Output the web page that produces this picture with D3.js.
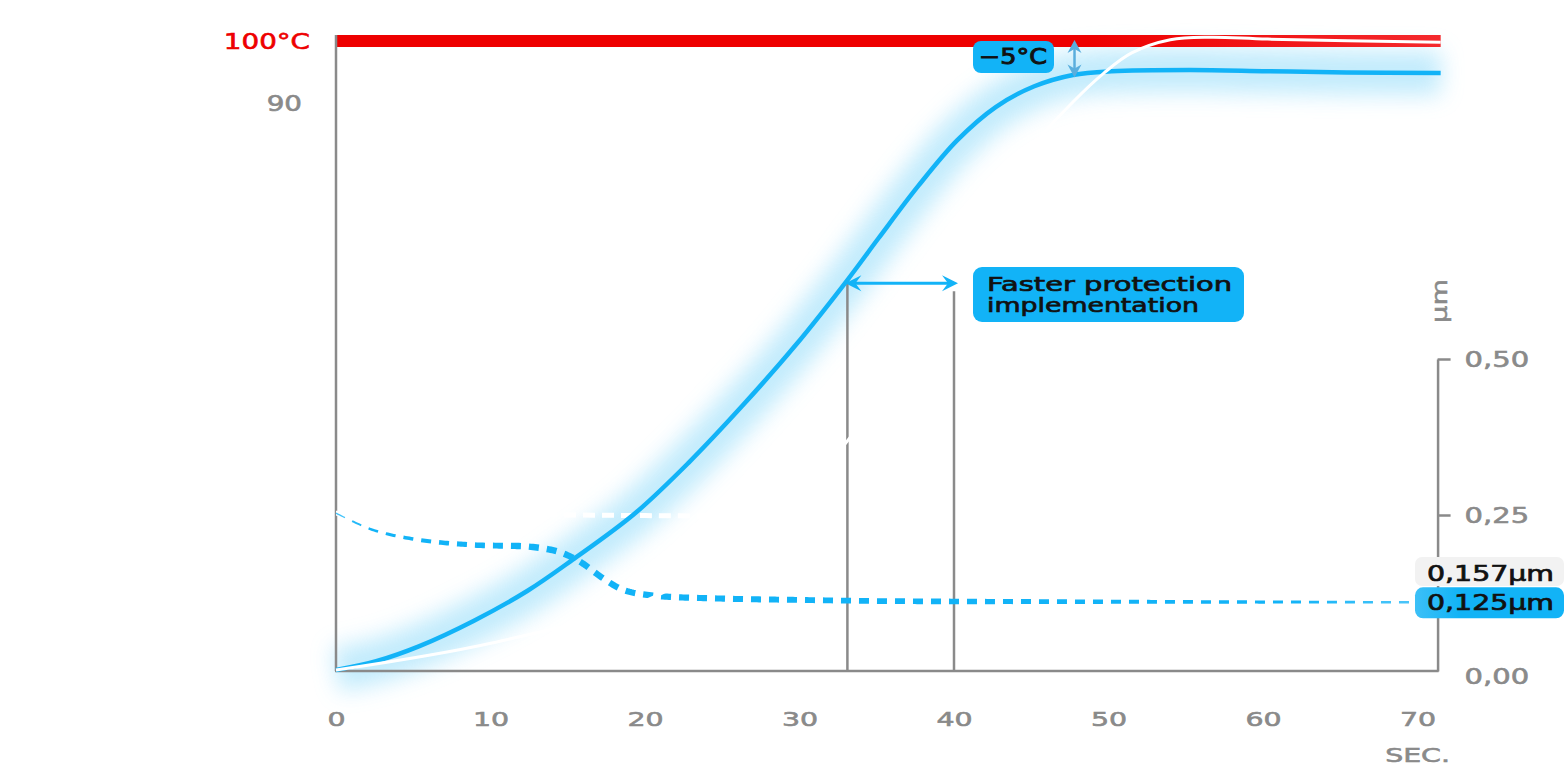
<!DOCTYPE html>
<html><head><meta charset="utf-8">
<script src="https://cdn.jsdelivr.net/npm/d3@7/dist/d3.min.js"></script>
<style>html,body{margin:0;padding:0;background:#fff;overflow:hidden}svg{display:block}</style>
</head><body><svg id="c" width="1564" height="768"></svg>
<script>
// ---------- data ----------
const timeTicks = [0, 10, 20, 30, 40, 50, 60, 70];
const tempTicks = [90, 100];
const tempTickLabels = ["90", "100°C"];
const umTicks = [0, 0.25, 0.5];
const umTickLabels = ["0,00", "0,25", "0,50"];
const timeUnit = "SEC.";
const umUnit = "µm";

// temperature with protection (blue solid)
const tWith    = [0, 2.6, 5.4, 8.9, 12.4, 15.3, 19.3, 22.8, 26.3, 29.7, 33.1, 35.1, 37.7, 40.2, 42.7, 45.2, 47.7, 50.2, 55.3, 60.3, 65.4, 71.5];
const tempWith = [0, 1.4, 3.8, 7.8, 12.6, 17.5, 24.8, 32.9, 42.0, 51.5, 62.0, 68.6, 77.0, 84.2, 89.5, 92.8, 94.6, 95.2, 95.4, 95.2, 95.0, 94.9];
// reference temperature (white solid)
const tRef    = [0, 10.1, 20, 27, 33.1, 38, 42, 45, 47.7, 49.7, 51.5, 54.0, 56.6, 60.3, 71.5];
const tempRef = [0, 4.3, 11, 21, 36.4, 55, 72, 83, 90.3, 94.9, 98.1, 100.2, 100.6, 100.3, 99.8];
// coating thickness with protection (blue dashed)
const tCoat  = [0, 2.4, 5.4, 8.9, 12.6, 14.4, 15.8, 17.2, 18.6, 20.5, 25.1, 29.7, 35.8, 50, 71.5];
const umWith = [0.253, 0.226, 0.210, 0.202, 0.199, 0.191, 0.175, 0.150, 0.130, 0.121, 0.116, 0.114, 0.112, 0.111, 0.110];
// reference coating thickness (white dashed)
const tCoatRef = [0, 10, 20, 30, 38, 44, 50, 58, 71.5];
const umRef    = [0.253, 0.251, 0.249, 0.246, 0.235, 0.200, 0.168, 0.158, 0.157];

const protectionTimes = [33.1, 40];
const limitTemp = 100;
const deltaText = "−5°C";
const protectionText = ["Faster protection", "implementation"];
const endBadges = ["0,157µm", "0,125µm"];

// ---------- scales ----------
const svg = d3.select("#c");
const x  = d3.scaleLinear().domain([0, 70]).range([336, 1417.5]);
const yT = d3.scaleLinear().domain([0, 100]).range([670, 41]);
const yU = d3.scaleLinear().domain([0, 0.5]).range([671, 359]);
const tEnd = 71.3;

const BLUE = "#12b3f7", GRAY = "#8a8a8a", RED = "#ee0000";
const FONT = "DejaVu Sans";
const LBL = 21, LBL_STRETCH = 1.38;

const defs = svg.append("defs");
defs.append("filter").attr("id", "glow").attr("x", "-10%").attr("y", "-20%").attr("width", "120%").attr("height", "140%")
  .append("feGaussianBlur").attr("stdDeviation", 11);
const rg = defs.append("linearGradient").attr("id", "redg").attr("gradientUnits", "userSpaceOnUse")
  .attr("x1", 336).attr("x2", 1441).attr("y1", 0).attr("y2", 0);
rg.append("stop").attr("offset", "0.68").attr("stop-color", "#ee0000");
rg.append("stop").attr("offset", "1").attr("stop-color", "#f42a2e");
const bg = defs.append("linearGradient").attr("id", "blueg").attr("x1", "0").attr("x2", "1");
bg.append("stop").attr("offset", "0").attr("stop-color", "#3cc0f7");
bg.append("stop").attr("offset", "0.3").attr("stop-color", "#12b3f6");

function stretch(sel, factor) {
  sel.each(function () {
    const L = this.getComputedTextLength();
    this.setAttribute("textLength", L * factor);
    this.setAttribute("lengthAdjust", "spacingAndGlyphs");
  });
  return sel;
}
function fitText(sel, w) {
  sel.attr("textLength", w).attr("lengthAdjust", "spacingAndGlyphs");
  return sel;
}

const lineT = d3.line().curve(d3.curveCatmullRom.alpha(0.5));
const pathWith = lineT(tWith.map((t, i) => [x(t), yT(tempWith[i])]));
const pathRef  = lineT(tRef.map((t, i) => [x(t), yT(tempRef[i])]));
const pathCoat = lineT(tCoat.map((t, i) => [x(t), yU(umWith[i])]));
const pathCoatRef = lineT(tCoatRef.map((t, i) => [x(t), yU(umRef[i])]));

// ---------- glow ----------
svg.append("path").attr("d", pathWith).attr("fill", "none")
  .attr("stroke", "#b8e8fc").attr("stroke-width", 44).attr("opacity", 0.85)
  .attr("filter", "url(#glow)");

// ---------- red limit band ----------
svg.append("rect").attr("x", x(0)).attr("width", x(71.5) - x(0)).attr("y", yT(limitTemp) - 6).attr("height", 12)
  .attr("fill", "url(#redg)");

// ---------- axes ----------
const ax = svg.append("g").attr("fill", "none").attr("stroke", GRAY).attr("stroke-width", 2.5);
ax.append("line").attr("x1", x(0)).attr("x2", x(0)).attr("y1", yT(limitTemp) - 6).attr("y2", yU(0));
ax.append("line").attr("x1", x(0) - 1).attr("x2", x(tEnd) + 1).attr("y1", yU(0)).attr("y2", yU(0));

const rightAxis = svg.append("g").attr("transform", `translate(${x(tEnd)},0)`)
  .call(d3.axisRight(yU).tickValues(umTicks).tickSize(13).tickPadding(14).tickSizeOuter(0)
    .tickFormat((d, i) => umTickLabels[i]));
rightAxis.select(".domain").attr("stroke", GRAY).attr("stroke-width", 2.5);
rightAxis.selectAll(".tick line").attr("stroke", GRAY).attr("stroke-width", 2.5)
  .attr("display", d => d === 0 ? "none" : null);
rightAxis.selectAll(".tick text").attr("fill", GRAY).attr("stroke", GRAY).attr("stroke-width", 0.6)
  .attr("font-family", FONT).attr("font-size", LBL)
  .attr("dy", d => d === 0 ? "0.58em" : "0.36em");
stretch(rightAxis.selectAll(".tick text"), LBL_STRETCH);

const bottomAxis = svg.append("g").attr("transform", `translate(0,${yU(0)})`)
  .call(d3.axisBottom(x).tickValues(timeTicks).tickSize(0).tickPadding(55));
bottomAxis.select(".domain").remove();
bottomAxis.selectAll(".tick text").attr("fill", GRAY).attr("stroke", GRAY).attr("stroke-width", 0.6)
  .attr("font-family", FONT).attr("font-size", LBL - 1).attr("dy", "0");
stretch(bottomAxis.selectAll(".tick text"), LBL_STRETCH + 0.04);

const leftLabels = svg.append("g");
leftLabels.selectAll("text").data(tempTicks).join("text")
  .attr("x", (d, i) => i === 1 ? 310 : 302).attr("y", d => yT(d)).attr("dy", "0.36em")
  .attr("text-anchor", "end").attr("font-family", FONT).attr("font-size", LBL)
  .attr("fill", (d, i) => i === 1 ? RED : GRAY).attr("stroke", (d, i) => i === 1 ? RED : GRAY)
  .attr("stroke-width", 0.6).text((d, i) => tempTickLabels[i]);
stretch(leftLabels.selectAll("text"), 1.32);

stretch(svg.append("text").attr("x", 1450).attr("y", 762).attr("text-anchor", "end")
  .attr("font-family", FONT).attr("font-size", LBL - 1).attr("fill", GRAY).attr("stroke", GRAY).attr("stroke-width", 0.6)
  .text(timeUnit), LBL_STRETCH + 0.04);
stretch(svg.append("text").attr("transform", `translate(${x(tEnd) + 9},301) rotate(-90)`)
  .attr("text-anchor", "middle").attr("font-family", FONT).attr("font-size", LBL)
  .attr("fill", GRAY).attr("stroke", GRAY).attr("stroke-width", 0.5).text(umUnit), 1.3);

// ---------- white reference dashed (under the markers) ----------
svg.append("path").attr("d", pathCoatRef).attr("fill", "none").attr("stroke", "#fff")
  .attr("stroke-width", 5).attr("stroke-dasharray", "12 7");

// ---------- protection markers ----------
svg.append("g").selectAll("line").data(protectionTimes).join("line")
  .attr("x1", d => x(d)).attr("x2", d => x(d))
  .attr("y1", (d, i) => i === 0 ? yT(61.5) : yT(61.5) + 8).attr("y2", yU(0))
  .attr("stroke", GRAY).attr("stroke-width", 2.5);

// ---------- blue dashed with variable width ----------
(function () {
  const tmp = svg.append("path").attr("d", pathCoat).attr("fill", "none");
  const node = tmp.node();
  const total = node.getTotalLength();
  const wScale = d3.scaleLinear().domain([0, 3, 8, 12, 40, 55, 71.5]).range([1.2, 2.8, 5, 6.5, 5.6, 3.6, 2.2]);
  const oScale = d3.scaleLinear().domain([0, 2, 62, 71.5]).range([0.75, 1, 1, 0.7]);
  const g = svg.append("g");
  const dash = 11, gap = 7;
  for (let L = 0; L < total; L += dash + gap) {
    const pts = [];
    for (let s = L; s <= Math.min(L + dash, total); s += 2) {
      const p = node.getPointAtLength(s); pts.push([p.x, p.y]);
    }
    if (pts.length < 2) continue;
    const mid = pts[Math.floor(pts.length / 2)];
    const tt = x.invert(mid[0]);
    g.append("path").attr("d", d3.line()(pts)).attr("fill", "none").attr("stroke", BLUE)
      .attr("stroke-width", wScale(tt)).attr("opacity", oScale(tt));
  }
  tmp.remove();
})();

// ---------- curves ----------
svg.append("path").attr("d", pathWith).attr("fill", "none").attr("stroke", BLUE).attr("stroke-width", 4.5);
svg.append("path").attr("d", pathRef).attr("fill", "none").attr("stroke", "#fff").attr("stroke-width", 3);

// ---------- horizontal arrow ----------
(function () {
  const y0 = yT(61.5), xa = x(protectionTimes[0]) - 2, xb = x(protectionTimes[1]) + 4;
  const g = svg.append("g").attr("fill", BLUE);
  g.append("line").attr("x1", xa + 4).attr("x2", xb - 4).attr("y1", y0).attr("y2", y0)
    .attr("stroke", BLUE).attr("stroke-width", 3);
  g.append("path").attr("d", `M${xa},${y0} L${xa + 16},${y0 - 8} L${xa + 10},${y0} L${xa + 16},${y0 + 8} Z`);
  g.append("path").attr("d", `M${xb},${y0} L${xb - 16},${y0 - 8} L${xb - 10},${y0} L${xb - 16},${y0 + 8} Z`);
})();

// ---------- vertical small arrow ----------
(function () {
  const xv = x(47.8), ya = yT(limitTemp) - 1, yb = yT(94.2);
  const c = "#5aaedd";
  const g = svg.append("g").attr("fill", c);
  g.append("line").attr("x1", xv).attr("x2", xv).attr("y1", ya + 6).attr("y2", yb - 6).attr("stroke", c).attr("stroke-width", 2.5);
  g.append("path").attr("d", `M${xv},${ya} L${xv - 7},${ya + 13} L${xv},${ya + 9} L${xv + 7},${ya + 13} Z`);
  g.append("path").attr("d", `M${xv},${yb} L${xv - 7},${yb - 13} L${xv},${yb - 9} L${xv + 7},${yb - 13} Z`);
})();

// ---------- badges ----------
function badge(bx, by, bw, bh, r, fill) {
  svg.append("rect").attr("x", bx).attr("y", by).attr("width", bw).attr("height", bh)
    .attr("rx", r).attr("fill", fill);
}
badge(973, 41, 81, 32, 8, BLUE);
fitText(svg.append("text").attr("x", 979).attr("y", 64).attr("font-family", FONT).attr("font-size", 21)
  .attr("fill", "#111").attr("stroke", "#111").attr("stroke-width", 0.9).text(deltaText), 68);

badge(973, 267, 271, 55, 9, BLUE);
svg.selectAll(".ptxt").data(protectionText).join("text").attr("class", "ptxt")
  .attr("x", 987).attr("y", (d, i) => 291 + i * 21).attr("font-family", FONT).attr("font-size", 20)
  .attr("fill", "#111").attr("stroke", "#111").attr("stroke-width", 0.7).text(d => d)
  .each(function (d, i) { fitText(d3.select(this), i === 0 ? 245 : 212); });

const lastRef = umRef[umRef.length - 1], lastWith = umWith[umWith.length - 1];
badge(1415, yU(lastRef) - 16, 149, 29, 7, "#f2f2f2");
badge(1415, yU(lastWith) - 15, 149, 31, 8, "url(#blueg)");
svg.selectAll(".etxt").data(endBadges).join("text").attr("class", "etxt")
  .attr("x", 1427).attr("y", (d, i) => (i === 0 ? yU(lastRef) : yU(lastWith)) + 7.5)
  .attr("font-family", FONT).attr("font-size", 21).attr("fill", "#111").attr("stroke", "#111")
  .attr("stroke-width", 0.7).text(d => d)
  .each(function () { fitText(d3.select(this), 127); });
</script></body></html>
